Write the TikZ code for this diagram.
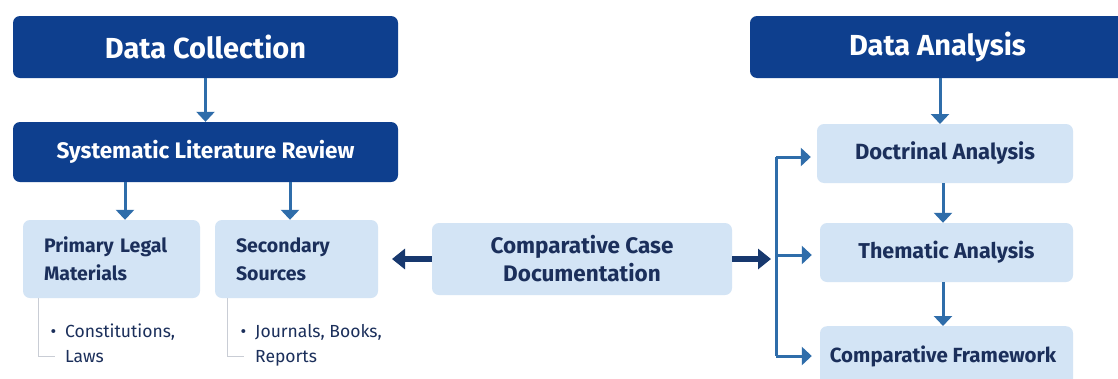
\documentclass[tikz,border=0pt]{standalone}
\usepackage{fontspec}
\setmainfont{Fira Sans}
\usetikzlibrary{arrows.meta}
\definecolor{navybox}{HTML}{0E3F8E}
\definecolor{paleblue}{HTML}{D3E4F5}
\definecolor{inknavy}{HTML}{1B2F5B}
\definecolor{linkblue}{HTML}{2F6DAA}
\definecolor{heavyblue}{HTML}{17386E}
\definecolor{guidegray}{HTML}{C9CDD5}
\tikzset{
  headbox/.style={rounded corners=7pt, fill=navybox, text=white, font=\bfseries\fontsize{29}{34}\selectfont},
  subhead/.style={rounded corners=7pt, fill=navybox, text=white, font=\bfseries\fontsize{22.5}{26}\selectfont},
  softbox/.style={rounded corners=7pt, fill=paleblue, text=inknavy, font=\bfseries\fontsize{19.5}{28}\selectfont},
  listtext/.style={text=inknavy, font=\fontsize{17.5}{25}\selectfont, align=left, inner sep=0pt, anchor=base west},
  link/.style={draw=linkblue, line width=3pt, -{Triangle[width=18pt,length=10pt]}},
  heavy/.style={draw=heavyblue, line width=5.5pt, -{Triangle[width=20pt,length=13pt]}},
  guide/.style={draw=guidegray, line width=1pt},
}
\begin{document}
\begin{tikzpicture}[x=1pt,y=-1pt]
  \clip (0,0) rectangle (1118,378);
  \fill[white] (0,0) rectangle (1118,378);

  % collection branch
  \node[headbox, minimum width=385pt, minimum height=62pt] (dc) at (205.5,47) {Data Collection};
  \node[subhead, minimum width=385pt, minimum height=60pt] (slr) at (205.5,152) {Systematic Literature Review};
  \node[softbox, minimum width=177pt, minimum height=78pt, text width=135pt, align=left, inner xsep=21pt] (plm) at (111.5,259) {Primary Legal\\Materials};
  \node[softbox, minimum width=163pt, minimum height=78pt, text width=121pt, align=left, inner xsep=21pt] (ss) at (296.5,259) {Secondary\\Sources};

  \draw[link] (dc.south) -- (slr.north);
  \draw[link] (slr.south -| plm.north) ++(13.5,0) coordinate (s1) -- (s1 |- plm.north);
  \draw[link] (slr.south -| ss.north) ++(-6.5,0) coordinate (s2) -- (s2 |- ss.north);

  % lists under the source boxes (base anchor sits on the last line)
  \node[listtext] (plist) at (65,362) {\llap{\textbullet\hspace{9pt}}Constitutions,\\Laws};
  \node[listtext] (slist) at (255,362) {\llap{\textbullet\hspace{9pt}}Journals, Books,\\Reports};
  \coordinate (pg) at (38,356);
  \coordinate (sg) at (227,356);
  \draw[guide] (plm.south -| pg) -- (pg) -- ++(17,0);
  \draw[guide] (ss.south -| sg) -- (sg) -- ++(17,0);

  % comparative case documentation
  \node[softbox, minimum width=300pt, minimum height=72pt, align=center, font=\bfseries\fontsize{22.5}{28}\selectfont] (ccd) at (582,259) {Comparative Case\\Documentation};
  \coordinate (lt) at (392,259);
  \coordinate (rt) at (771,259);
  \draw[heavy] (ccd.west) -- (lt);
  \draw[heavy] (ccd.east) -- (rt);

  % analysis branch
  \node[headbox, minimum width=375pt, minimum height=62pt] (da) at (937.5,47) {Data Analysis};
  \node[softbox, minimum width=256pt, minimum height=59pt, font=\bfseries\fontsize{22}{26}\selectfont] (doc) at (945,153.5) {Doctrinal Analysis};
  \node[softbox, minimum width=253pt, minimum height=59pt, font=\bfseries\fontsize{21.5}{26}\selectfont] (them) at (946.5,252.5) {Thematic Analysis};
  \node[softbox, minimum width=253pt, minimum height=60pt, anchor=north] (cf) at (946.5,326) {};
  \node[text=inknavy, font=\bfseries\fontsize{20.5}{26}\selectfont] (cft) at (943,356) {Comparative Framework};

  \draw[link] (da.south -| 940,0) -- (940,124);
  \draw[link] (doc.south -| 943,0) -- (them.north -| 943,0);
  \draw[link] (them.south -| 943,0) -- (cf.north -| 943,0);

  % fan-out bracket
  \coordinate (bt) at (776,157);
  \coordinate (bm) at (776,255);
  \coordinate (bb) at (776,356);
  \draw[draw=linkblue, line width=3pt] (bt) -- (bb);
  \draw[link, shorten >=6pt] (bt) -- (bt -| doc.west);
  \draw[link, shorten >=8pt] (bm) -- (bm -| them.west);
  \draw[link, shorten >=8pt] (bb) -- (bb -| cf.west);
\end{tikzpicture}
\end{document}
